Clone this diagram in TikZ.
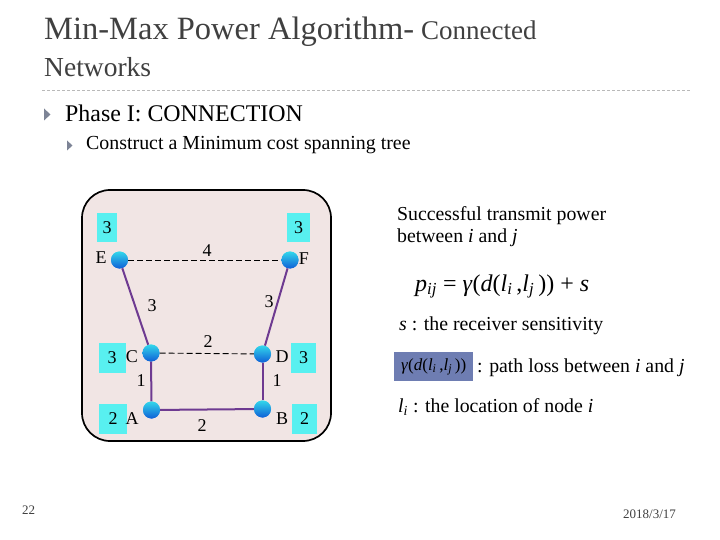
\documentclass[tikz,border=0pt]{standalone}
\usepackage{fontspec}
\setmainfont{Liberation Serif}
\usetikzlibrary{shapes.geometric}
\definecolor{titlegray}{RGB}{64,64,64}
\definecolor{rulegray}{RGB}{185,185,185}
\definecolor{bulletgray}{RGB}{125,132,150}
\definecolor{boxpink}{RGB}{241,229,228}
\definecolor{sqcyan}{RGB}{88,240,240}
\definecolor{edgepurple}{RGB}{110,58,145}
\definecolor{balltop}{RGB}{50,215,235}
\definecolor{ballbottom}{RGB}{15,95,215}
\definecolor{hlblue}{RGB}{110,125,178}
\newcommand{\itx}[1]{\textit{#1}}
\newcommand{\sbs}[1]{\textsubscript{\textit{#1}}}
\begin{document}
\begin{tikzpicture}[x=1pt,y=-1pt,
  txt/.style={inner sep=0pt, anchor=base west},
  ballnode/.style={circle, minimum size=17pt, inner sep=0pt, top color=balltop, bottom color=ballbottom, shading angle=0},
  sqbox/.style={fill=sqcyan, inner sep=0pt, minimum height=29pt, font=\fontsize{18}{18}\selectfont},
  lbl/.style={inner sep=0pt, font=\fontsize{18}{18}\selectfont},
  tree/.style={draw=edgepurple, line width=2pt},
  nontree/.style={draw=black, line width=0.9pt, dash pattern=on 6pt off 3pt},
  bullet/.style={fill=bulletgray}]
\useasboundingbox[fill=white] (0,0) rectangle (720,540);

% title
\node[txt, text=titlegray, font=\fontsize{32.5}{32.5}\selectfont] (title) at (44,40)
  {Min-Max Power Algorithm-{\fontsize{27}{27}\selectfont{} Connected}};
\node[txt, text=titlegray, font=\fontsize{27.5}{27.5}\selectfont] (title2) at (44,77) {Networks};
\coordinate (ruleL) at (42,90);
\coordinate (ruleR) at (690,90);
\draw[rulegray, line width=0.8pt, dash pattern=on 3pt off 2pt] (ruleL) -- (ruleR);

% bullets
\fill[bullet] (44,108.5) -- (50.5,114.5) -- (44,120.5) -- cycle;
\node[txt, font=\fontsize{23.9}{23.9}\selectfont] (phase) at (65,122) {Phase I: CONNECTION};
\fill[bullet] (67,140.5) -- (72.5,145.5) -- (67,150.5) -- cycle;
\node[txt, font=\fontsize{19.9}{19.9}\selectfont] (construct) at (86,150) {Construct a Minimum cost spanning tree};

% panel
\draw[line width=1.7pt, fill=boxpink, rounded corners=28pt] (82,190) rectangle (331,441);

% power squares
\node[sqbox, minimum width=20pt] (pE) at (107,227.5) {3};
\node[sqbox, minimum width=23pt] (pF) at (298.5,227.5) {3};
\node[sqbox, minimum width=27pt, minimum height=30pt] (pC) at (112,358) {3};
\node[sqbox, minimum width=25pt, minimum height=30pt] (pD) at (303.5,358) {3};
\node[sqbox, minimum width=28pt, minimum height=30pt] (pA) at (113,419) {2};
\node[sqbox, minimum width=25pt, minimum height=30pt] (pB) at (304.5,419) {2};

% nodes
\node[ballnode] (E) at (119.5,260) {};
\node[ballnode] (F) at (290,260) {};
\node[ballnode] (C) at (151,353) {};
\node[ballnode] (D) at (262.5,354) {};
\node[ballnode] (A) at (151.5,410) {};
\node[ballnode] (B) at (262.5,409) {};

% edges
\draw[nontree] (E) -- (F);
\draw[nontree] (C) -- (D);
\draw[tree] (E) -- (C);
\draw[tree] (F) -- (D);
\draw[tree] (C) -- (A);
\draw[tree] (D) -- (B);
\draw[tree] (A) -- (B);
% balls on top of the connectors
\node[ballnode] at (E) {};
\node[ballnode] at (F) {};
\node[ballnode] at (C) {};
\node[ballnode] at (D) {};
\node[ballnode] at (A) {};
\node[ballnode] at (B) {};

% node letters
\node[lbl] (tE) at (101,258) {E};
\node[lbl] (tF) at (304,259) {F};
\node[lbl] (tC) at (132,357) {C};
\node[lbl] (tD) at (282,357) {D};
\node[lbl] (tA) at (132,419) {A};
\node[lbl] (tB) at (282,419) {B};

% edge weights
\node[lbl] (wEF) at (207,251) {4};
\node[lbl] (wEC) at (152,306) {3};
\node[lbl] (wFD) at (269,302) {3};
\node[lbl] (wCD) at (208,342) {2};
\node[lbl] (wCA) at (141,381) {1};
\node[lbl] (wDB) at (277,381) {1};
\node[lbl] (wAB) at (202,426) {2};

% right text
\node[txt, font=\fontsize{19.8}{19.8}\selectfont] (s1) at (397,221) {Successful transmit power};
\node[txt, font=\fontsize{19.8}{19.8}\selectfont] (s2) at (397,243) {between \itx{i} and \itx{j}};
\node[txt, font=\fontsize{24}{24}\selectfont] (formula) at (415,291)
  {\itx{p}\sbs{ij} = \itx{γ}(\itx{d}(\itx{l}\sbs{i}\,,\itx{l}\sbs{j}\,)) + \itx{s}};
\node[txt, font=\fontsize{19.8}{19.8}\selectfont] (sens) at (399,330) {\itx{s} : the receiver sensitivity};
\node[fill=hlblue, anchor=north west, minimum width=79pt, minimum height=29pt, inner sep=0pt, font=\fontsize{17}{17}\selectfont] (hl) at (394,352)
  {\itx{γ}(\itx{d}(\itx{l}\sbs{i}\,,\itx{l}\sbs{j}\,))};
\node[txt, font=\fontsize{19.8}{19.8}\selectfont] (loss) at (477,372) {: path loss between \itx{i} and \itx{j}};
\node[txt, font=\fontsize{19.8}{19.8}\selectfont] (loc) at (398,412) {\itx{l}\sbs{i} : the location of node \itx{i}};

% footer
\node[txt, text=titlegray, font=\fontsize{13}{13}\selectfont] (pg) at (22,514) {22};
\node[txt, text=titlegray, font=\fontsize{13}{13}\selectfont] (date) at (623,518) {2018/3/17};
\end{tikzpicture}
\end{document}
